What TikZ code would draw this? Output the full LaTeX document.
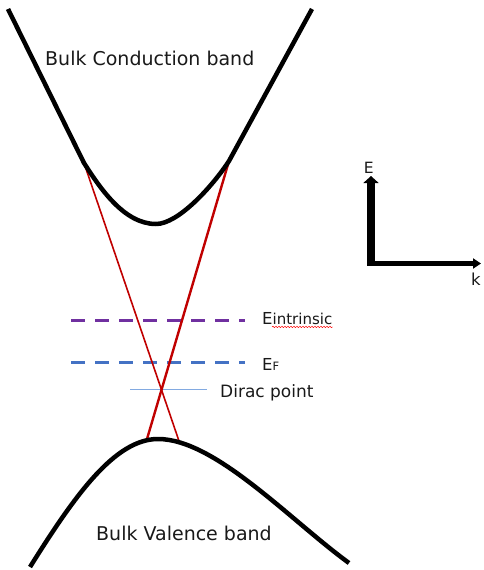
\documentclass[tikz,border=0pt]{standalone}
\usepackage{fontspec}
\setmainfont{DejaVu Sans}
\usepackage{xcolor}
\usetikzlibrary{arrows.meta,decorations.pathmorphing}
\definecolor{diracred}{RGB}{192,0,0}
\definecolor{intrpurple}{RGB}{112,48,160}
\definecolor{fermiblue}{RGB}{68,114,196}
\definecolor{diraclight}{RGB}{130,170,225}

\begin{document}
\begin{tikzpicture}[x=1pt,y=-1pt,>=Latex]
\tikzstyle{band}=[line width=4.5pt,line join=round]
\tikzstyle{cone}=[draw=diracred]
\tikzstyle{level}=[line width=3pt,dash pattern=on 14pt off 10pt]
\tikzstyle{lbl}=[inner sep=0pt,text=black!90]
\useasboundingbox (0,0) rectangle (483,570);
% where the surface cone meets the bulk bands
\coordinate (cbL) at (84,163);
\coordinate (cbR) at (229,161);
\coordinate (vbL) at (147,439);
\coordinate (vbR) at (179,441);
% energy levels
\coordinate (iL) at (71,320);
\coordinate (iR) at (245,320);
\coordinate (fL) at (71,362);
\coordinate (fR) at (245,362);
\coordinate (dL) at (130,389);
\coordinate (dR) at (207,389);
\draw[level,intrpurple] (iL) -- (iR);
\draw[level,fermiblue] (fL) -- (fR);
\draw[diraclight,line width=1pt] (dL) -- (dR);
\draw[cone,line width=1.6pt] (cbL) -- (vbR);
\draw[cone,line width=2.4pt] (cbR) -- (vbL);
% bulk bands
\draw[band] (8,9) -- (cbL) .. controls (100,188) and (124,224) .. (156,224)
  .. controls (178,224) and (212,187) .. (cbR) -- (312,9);
\draw[band] (30,567) .. controls (75,495) and (115,439) .. (158,439)
  .. controls (215,439) and (290,520) .. (349,563);
% labels
\node[lbl,anchor=base west,font=\fontsize{19}{23}\selectfont] (cb) at (45,65) {Bulk Conduction band};
\node[lbl,anchor=base west,font=\fontsize{19}{23}\selectfont] (vb) at (96,540) {Bulk Valence band};
\node[lbl,anchor=base west,font=\fontsize{17}{20}\selectfont] (dp) at (220,397.5) {Dirac point};
\node[lbl,anchor=base west] (ei) at (262,324) {\fontsize{16.5}{19}\selectfont E\fontsize{15}{17}\selectfont intrinsic};
\node[lbl,anchor=base west] (ef) at (262,370) {\fontsize{16.5}{19}\selectfont E\fontsize{11.5}{13}\selectfont F};
\draw[red,line width=0.5pt,decorate,decoration={snake,amplitude=0.7pt,segment length=3pt}]
  ([shift={(10,2.5)}]ei.south west) -- ([shift={(0,2.5)}]ei.south east);
% axes
\coordinate (O) at (371,263.5);
\coordinate (Etip) at (371,176);
\coordinate (ktip) at (481,263.5);
\draw[line width=7.5pt,-{Triangle[width=15pt,length=7pt]}] ([yshift=-2pt]O) -- (Etip);
\draw[line width=4.5pt,-{Triangle[width=10pt,length=8pt]}] ([xshift=-3.75pt]O) -- (ktip);
\node[lbl,font=\fontsize{15.5}{18}\selectfont] (Elab) at (368.8,167.5) {E};
\node[lbl,font=\fontsize{16.5}{19}\selectfont] (klab) at (476,279.5) {k};
\end{tikzpicture}
\end{document}
